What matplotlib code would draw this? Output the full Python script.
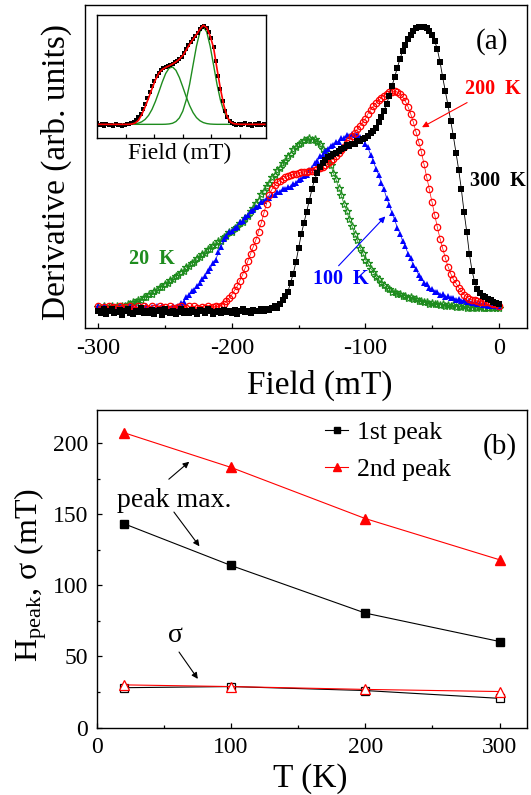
import numpy as np
import matplotlib
matplotlib.use("Agg")
import matplotlib.pyplot as plt
from matplotlib.ticker import MultipleLocator, NullLocator, FixedLocator

# ---------------- (a) derivative spectra, field step 2 mT ----------------
field_mT = np.arange(-300, 2, 2)

deriv_300K = [
    -0.012, -0.020, -0.008, -0.025, -0.015, -0.005, -0.022, -0.018, -0.010, -0.028,
    -0.014, -0.006, -0.020, -0.024, -0.012, -0.016, -0.004, -0.021, -0.013, -0.019,
    -0.009, -0.023, -0.015, -0.011, -0.026, -0.007, -0.017, -0.020, -0.012, -0.024,
    -0.016, -0.008, -0.019, -0.013, -0.022, -0.010, -0.018, -0.025, -0.011, -0.015,
    -0.020, -0.007, -0.014, -0.023, -0.017, -0.012, -0.021, -0.009, -0.016, -0.013,
    -0.019, -0.011, -0.024, -0.014, -0.008, -0.018, -0.013, -0.020, -0.010, -0.015,
    -0.012, -0.008, -0.014, -0.005, -0.009, -0.002, 0.003, -0.004, 0.012, 0.025,
    0.040, 0.055, 0.088, 0.120, 0.160, 0.210, 0.260, 0.300, 0.340, 0.380,
    0.420, 0.455, 0.480, 0.500, 0.515, 0.525, 0.535, 0.540, 0.545, 0.550,
    0.558, 0.566, 0.568, 0.577, 0.575, 0.582, 0.584, 0.592, 0.594, 0.601,
    0.605, 0.610, 0.620, 0.630, 0.640, 0.660, 0.680, 0.700, 0.725, 0.755,
    0.790, 0.820, 0.855, 0.885, 0.915, 0.935, 0.955, 0.970, 0.985, 0.995,
    1.000, 1.000, 1.000, 0.995, 0.985, 0.970, 0.950, 0.920, 0.875, 0.820,
    0.770, 0.720, 0.665, 0.610, 0.550, 0.490, 0.420, 0.340, 0.270, 0.190,
    0.130, 0.090, 0.065, 0.050, 0.040, 0.035, 0.030, 0.025, 0.020, 0.015,
    0.010,
]

deriv_200K = [
    0.004, -0.006, 0.002, -0.010, 0.006, -0.003, 0.000, -0.008, 0.005, -0.004,
    0.002, -0.007, 0.004, -0.002, -0.009, 0.003, -0.005, 0.006, -0.001, -0.006,
    0.003, -0.004, -0.008, 0.005, -0.002, 0.001, -0.006, 0.004, -0.003, -0.007,
    0.002, 0.006, -0.005, -0.001, 0.003, -0.008, 0.004, -0.002, -0.006, 0.001,
    -0.004, 0.003, -0.002, 0.000, 0.004, 0.002, 0.006, 0.012, 0.022, 0.033,
    0.045, 0.060, 0.075, 0.095, 0.115, 0.140, 0.165, 0.190, 0.215, 0.240,
    0.270, 0.300, 0.335, 0.370, 0.400, 0.420, 0.435, 0.445, 0.452, 0.458,
    0.463, 0.468, 0.472, 0.475, 0.477, 0.480, 0.482, 0.483, 0.484, 0.485,
    0.487, 0.490, 0.493, 0.497, 0.502, 0.508, 0.515, 0.522, 0.530, 0.540,
    0.550, 0.560, 0.572, 0.585, 0.598, 0.610, 0.622, 0.635, 0.648, 0.660,
    0.672, 0.690, 0.705, 0.717, 0.728, 0.738, 0.747, 0.755, 0.762, 0.766,
    0.768, 0.770, 0.768, 0.762, 0.750, 0.735, 0.715, 0.690, 0.660, 0.625,
    0.590, 0.555, 0.510, 0.465, 0.420, 0.375, 0.330, 0.285, 0.245, 0.210,
    0.175, 0.145, 0.120, 0.100, 0.085, 0.070, 0.057, 0.045, 0.037, 0.030,
    0.027, 0.025, 0.022, 0.020, 0.020, 0.018, 0.017, 0.015, 0.012, 0.010,
    0.006,
]

deriv_100K = [
    0.003, -0.005, 0.006, -0.002, -0.008, 0.004, 0.000, -0.006, 0.005, -0.003,
    -0.007, 0.002, 0.005, -0.004, 0.001, -0.009, 0.004, -0.002, 0.006, -0.005,
    0.000, -0.006, 0.003, -0.003, 0.005, -0.007, 0.002, -0.001, 0.004, 0.002,
    0.005, 0.014, 0.020, 0.037, 0.043, 0.057, 0.063, 0.077, 0.085, 0.102,
    0.111, 0.130, 0.140, 0.159, 0.170, 0.197, 0.216, 0.242, 0.253, 0.267,
    0.271, 0.283, 0.288, 0.303, 0.308, 0.321, 0.328, 0.343, 0.346, 0.359,
    0.362, 0.375, 0.378, 0.389, 0.390, 0.401, 0.401, 0.411, 0.411, 0.421,
    0.420, 0.430, 0.430, 0.441, 0.442, 0.453, 0.456, 0.469, 0.473, 0.488,
    0.495, 0.513, 0.520, 0.538, 0.543, 0.558, 0.563, 0.575, 0.578, 0.590,
    0.591, 0.603, 0.603, 0.613, 0.611, 0.618, 0.613, 0.615, 0.606, 0.603,
    0.583, 0.570, 0.543, 0.523, 0.493, 0.473, 0.443, 0.421, 0.388, 0.366,
    0.335, 0.313, 0.283, 0.263, 0.236, 0.218, 0.191, 0.175, 0.150, 0.136,
    0.115, 0.105, 0.088, 0.083, 0.069, 0.066, 0.055, 0.054, 0.045, 0.046,
    0.038, 0.040, 0.032, 0.034, 0.027, 0.030, 0.023, 0.026, 0.019, 0.022,
    0.015, 0.018, 0.011, 0.015, 0.008, 0.012, 0.006, 0.009, 0.003, 0.006,
    0.002,
]

deriv_20K = [
    0.002, -0.004, 0.005, -0.006, 0.001, 0.004, -0.003, 0.006, -0.002, 0.003,
    0.006, 0.012, 0.011, 0.019, 0.018, 0.027, 0.025, 0.036, 0.035, 0.047,
    0.048, 0.058, 0.060, 0.071, 0.072, 0.083, 0.085, 0.097, 0.099, 0.111,
    0.114, 0.127, 0.130, 0.143, 0.146, 0.159, 0.162, 0.175, 0.178, 0.191,
    0.194, 0.207, 0.209, 0.221, 0.223, 0.235, 0.238, 0.251, 0.254, 0.267,
    0.270, 0.283, 0.287, 0.301, 0.305, 0.320, 0.326, 0.343, 0.353, 0.372,
    0.383, 0.403, 0.413, 0.433, 0.443, 0.463, 0.473, 0.490, 0.498, 0.515,
    0.522, 0.541, 0.548, 0.565, 0.570, 0.583, 0.585, 0.596, 0.595, 0.603,
    0.598, 0.600, 0.590, 0.584, 0.566, 0.552, 0.528, 0.509, 0.480, 0.457,
    0.425, 0.400, 0.368, 0.344, 0.313, 0.290, 0.260, 0.240, 0.213, 0.195,
    0.170, 0.157, 0.138, 0.127, 0.108, 0.100, 0.086, 0.080, 0.068, 0.066,
    0.056, 0.056, 0.048, 0.048, 0.040, 0.041, 0.034, 0.035, 0.028, 0.029,
    0.023, 0.024, 0.018, 0.019, 0.013, 0.015, 0.010, 0.013, 0.008, 0.011,
    0.006, 0.009, 0.004, 0.007, 0.002, 0.005, 0.000, 0.003, -0.002, 0.002,
    -0.003, 0.001, -0.004, 0.000, -0.003, -0.001, -0.004, 0.000, -0.003, -0.002,
    -0.002,
]

# ---------------- inset: two-peak decomposition (arbitrary field units) ----------------
inset_fit_x = np.arange(0, 300, 6)
inset_fit_total = [
    0, 0, 0, 0, 0, 0, 0, 0, 0, 0, 0.003,
    0.012, 0.040, 0.100, 0.180, 0.270, 0.365, 0.455, 0.525, 0.562, 0.583,
    0.600, 0.618, 0.640, 0.668, 0.705, 0.760, 0.820, 0.872, 0.920, 0.975,
    1.015, 0.990, 0.905, 0.785, 0.570, 0.365, 0.195, 0.075, 0.022, 0.006,
    0.002,
    0, 0, 0, 0, 0, 0, 0, 0,
]
inset_peak1 = [
    0, 0, 0, 0, 0, 0, 0, 0, 0,
    0.001, 0.002, 0.005, 0.012, 0.026, 0.051, 0.092, 0.153, 0.235, 0.332,
    0.433, 0.521, 0.576, 0.588, 0.553, 0.480, 0.383, 0.282, 0.192, 0.120,
    0.069, 0.037, 0.018, 0.008, 0.003, 0.001,
    0, 0, 0, 0, 0, 0, 0, 0, 0, 0, 0, 0, 0, 0, 0,
]
inset_peak2 = [
    0, 0, 0, 0, 0, 0, 0, 0, 0, 0, 0, 0, 0, 0, 0, 0, 0, 0, 0, 0,
    0.001, 0.004, 0.011, 0.029, 0.066, 0.135, 0.249, 0.411, 0.607, 0.801,
    0.946, 1.000, 0.946, 0.801, 0.607, 0.411, 0.249, 0.135, 0.066, 0.029,
    0.011, 0.004, 0.001,
    0, 0, 0, 0, 0, 0, 0,
]
inset_data_x = np.arange(0, 300, 4)
inset_data = [
    0.010, -0.010, 0.000, -0.015, 0.005, -0.010, -0.005, -0.015, 0.000, -0.010,
    -0.005, -0.015, -0.005, 0.000, 0.005, 0.010,
    0.020, 0.040, 0.070, 0.110, 0.160, 0.210, 0.270, 0.330, 0.390, 0.440,
    0.490, 0.530, 0.560, 0.575, 0.590, 0.600, 0.610, 0.620, 0.635, 0.650,
    0.665, 0.690, 0.730, 0.770, 0.810, 0.840, 0.870, 0.905, 0.940, 0.975,
    1.000, 1.010, 0.990, 0.950, 0.880, 0.790, 0.650, 0.500, 0.360, 0.240,
    0.140, 0.070, 0.030, 0.010, 0.005,
    -0.005, 0.008, -0.012, 0.000, 0.010, -0.008, 0.004, -0.015, 0.006, -0.004,
    0.012, -0.010, 0.002, -0.006,
]

# ---------------- (b) fitted peak parameters ----------------
temps_K = [20, 100, 200, 300]
peak1_max = [143.5, 114.0, 80.5, 60.5]
peak2_max = [207.5, 183.0, 147.0, 118.0]
peak1_sigma = [28.0, 28.8, 26.0, 20.5]
peak2_sigma = [30.0, 28.8, 26.8, 25.3]

# ---------------- styling ----------------
plt.rcParams.update({
    "font.family": "Liberation Serif",
    "mathtext.fontset": "custom",
    "mathtext.rm": "Liberation Serif",
    "mathtext.it": "Liberation Serif:italic",
    "axes.unicode_minus": False,
    "axes.linewidth": 1.0,
})

GREEN = "#1e8c1e"
W, H = 531, 795


def px_rect(left, top, right, bottom):
    return [left / W, 1 - bottom / H, (right - left) / W, (bottom - top) / H]


fig = plt.figure(figsize=(W / 100, H / 100), dpi=100)

# ---------------- panel (a) ----------------
ax = fig.add_axes(px_rect(84.5, 5, 526.5, 328))
ax.plot(field_mT, deriv_20K, color=GREEN, lw=0.5, marker="*", ms=6,
        mfc="none", mew=0.9)
ax.plot(field_mT, deriv_100K, color="blue", lw=0.5, marker="^", ms=4.6, mew=0)
ax.plot(field_mT, deriv_200K, color="red", lw=0.5, marker="o", ms=4.6,
        mfc="none", mew=0.9)
ax.plot(field_mT, deriv_300K, color="black", lw=0.6, marker="s", ms=3.8, mew=0)

ax.set_xlim(-310.4, 20.8)
ax.set_ylim(-0.074, 1.078)
ax.xaxis.set_major_locator(MultipleLocator(100))
ax.xaxis.set_minor_locator(MultipleLocator(50))
ax.yaxis.set_major_locator(NullLocator())
ax.tick_params(axis="x", which="both", direction="in", top=False)
ax.tick_params(axis="x", which="major", length=3.5, width=0.9,
               labelsize=17.5, pad=7)
ax.tick_params(axis="x", which="minor", length=2, width=0.9)
ax.set_xlabel("Field (mT)", fontsize=24)
ax.xaxis.set_label_coords(0.533, -0.13)
ax.set_ylabel("Derivative (arb. units)", fontsize=24)
ax.yaxis.set_label_coords(-0.028, 0.483)

ax.text(-5, 0.948, "(a)", fontsize=21, ha="center", va="center")
ax.text(-4.7, 0.777, "200  K", color="red", fontsize=14.5,
        fontweight="bold", ha="center", va="center")
ax.text(-1, 0.451, "300  K", color="black", fontsize=14.5,
        fontweight="bold", ha="center", va="center")
ax.text(-260, 0.172, "20  K", color=GREEN, fontsize=14.5,
        fontweight="bold", ha="center", va="center")
ax.text(-118.4, 0.101, "100  K", color="blue", fontsize=14.5,
        fontweight="bold", ha="center", va="center")
ax.annotate("", xy=(-57.5, 0.642), xytext=(-23.7, 0.73),
            arrowprops=dict(arrowstyle="-|>", color="red", lw=0.8,
                            mutation_scale=9, shrinkA=0, shrinkB=0))
ax.annotate("", xy=(-85, 0.324), xytext=(-120, 0.148),
            arrowprops=dict(arrowstyle="-|>", color="blue", lw=0.8,
                            mutation_scale=9, shrinkA=0, shrinkB=0))

# ---------------- inset ----------------
axi = fig.add_axes(px_rect(97.3, 15, 266, 137.7))
axi.plot(inset_fit_x, inset_peak1, color=GREEN, lw=1.0)
axi.plot(inset_fit_x, inset_peak2, color=GREEN, lw=1.0)
axi.plot(inset_data_x, inset_data, ls="none", marker="s", ms=2.2,
         color="black", mew=0)
axi.plot(inset_fit_x, inset_fit_total, color="red", lw=1.2)
axi.set_xlim(0, 296)
axi.set_ylim(-0.137, 1.12)
axi.xaxis.set_major_locator(FixedLocator([50, 100, 150, 200, 250]))
axi.yaxis.set_major_locator(NullLocator())
axi.tick_params(axis="x", direction="in", length=3, width=0.9,
                labelbottom=False)
axi.set_xlabel("Field (mT)", fontsize=17)
axi.xaxis.set_label_coords(0.487, -0.046)

# ---------------- panel (b) ----------------
ax2 = fig.add_axes(px_rect(96.7, 410, 526.5, 727.5))
ax2.plot(temps_K, peak1_max, color="black", lw=0.8, marker="s", ms=5.2,
         label="1st peak")
ax2.plot(temps_K, peak2_max, color="red", lw=0.8, marker="^", ms=7,
         label="2nd peak")
ax2.plot(temps_K, peak1_sigma, color="black", lw=0.8, marker="s", ms=5.2,
         mfc="white", mew=0.9)
ax2.plot(temps_K, peak2_sigma, color="red", lw=0.8, marker="^", ms=7,
         mfc="white", mew=0.9)

ax2.set_xlim(0, 320)
ax2.set_ylim(0, 223.4)
ax2.xaxis.set_major_locator(MultipleLocator(100))
ax2.xaxis.set_minor_locator(MultipleLocator(50))
ax2.yaxis.set_major_locator(MultipleLocator(50))
ax2.yaxis.set_minor_locator(MultipleLocator(25))
ax2.tick_params(which="both", direction="in", top=False, right=False)
ax2.tick_params(which="major", length=3.5, width=0.9, labelsize=17, pad=7)
ax2.tick_params(axis="y", which="major", pad=6)
ax2.tick_params(which="minor", length=2, width=0.9)
ax2.set_xlabel("T (K)", fontsize=24)
ax2.xaxis.set_label_coords(0.497, -0.114)
ax2.set_ylabel(r"H$_{\mathrm{peak}}$, σ (mT)", fontsize=23)
ax2.yaxis.set_label_coords(-0.112, 0.48)

ax2.legend(loc="upper left", bbox_to_anchor=(0.532, 0.965), frameon=False,
           fontsize=18.5, handlelength=0.9, handletextpad=0.34,
           borderpad=0, borderaxespad=0, labelspacing=0.55, markerscale=0.8)
ax2.text(300, 198, "(b)", fontsize=21, ha="center", va="center")

ax2.text(57.5, 160, "peak max.", fontsize=20, ha="center", va="center")
arrow_kw = dict(arrowstyle="-|>", color="black", lw=0.8, mutation_scale=9,
                shrinkA=0, shrinkB=0)
ax2.annotate("", xy=(68.9, 187), xytext=(53.7, 174.7), arrowprops=arrow_kw)
ax2.annotate("", xy=(76.5, 127.5), xytext=(57.5, 151.6), arrowprops=arrow_kw)
ax2.text(58.8, 64.5, "σ", fontsize=20, ha="center", va="center")
ax2.annotate("", xy=(75.3, 34.2), xytext=(61.3, 53.1), arrowprops=arrow_kw)

fig.savefig("out.png", dpi=100)
